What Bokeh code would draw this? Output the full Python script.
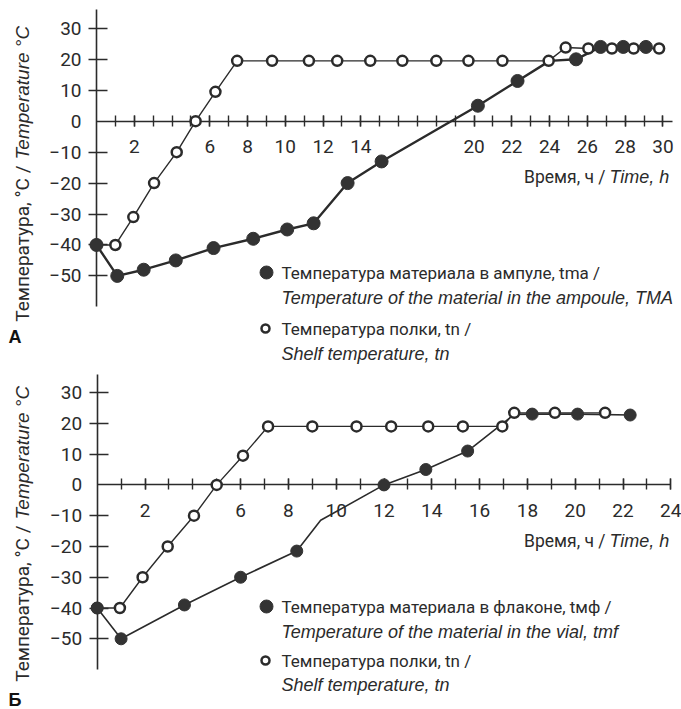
import math
from bokeh.plotting import figure
from bokeh.models import Range1d, LinearAxis, FixedTicker, Label
from bokeh.layouts import column
from bokeh.embed import file_html
from bokeh.resources import INLINE

# ---------------- data: panel A (ampoule) ----------------
a_mat_time = [0, 1.1, 2.5, 4.2, 6.2, 8.3, 10.1, 11.5, 13.3, 15.1, 20.2, 22.3, 25.4, 26.7, 27.9, 29.1]
a_mat_temp = [-40, -50, -48, -45, -41, -38, -35, -33, -20, -13, 5, 13, 20, 24, 24, 24]
# course of the material curve (with its bend where it meets the shelf curve)
a_path_time = [0, 1.1, 2.5, 4.2, 6.2, 8.3, 10.1, 11.5, 13.3, 15.1, 20.2, 22.3, 24.0, 25.4, 26.7, 27.9, 29.1]
a_path_temp = [-40, -50, -48, -45, -41, -38, -35, -33, -20, -13, 5, 13, 19.5, 20, 24, 24, 24]
a_shelf_time = [0, 1.0, 1.95, 3.05, 4.25, 5.25, 6.3, 7.45, 9.3, 11.25, 12.75, 14.5, 16.2,
                18.0, 19.7, 21.5, 23.95, 24.85, 26.05, 27.3, 28.45, 29.8]
a_shelf_temp = [-40, -40, -31, -20, -10, 0, 9.5, 19.5, 19.5, 19.5, 19.5, 19.5, 19.5,
                19.5, 19.5, 19.5, 19.5, 23.8, 23.5, 23.5, 23.5, 23.5]
a_time_labels = [2, 6, 8, 10, 12, 14, 20, 22, 24, 26, 28, 30]
a_time_ticks = list(range(1, 31))

# ---------------- data: panel B (vial) ----------------
b_mat_time = [0, 1.0, 3.65, 6.0, 8.35, 12.0, 13.75, 15.5, 18.2, 20.1, 22.3]
b_mat_temp = [-40, -50, -39, -30, -21.5, 0, 5, 11, 23, 23, 22.7]
b_path_time = [0, 1.0, 3.65, 6.0, 8.35, 9.35, 12.0, 13.75, 15.5, 17.45, 18.2, 20.1, 22.3]
b_path_temp = [-40, -50, -39, -30, -21.5, -11.5, 0, 5, 11, 22.9, 23, 23, 22.7]
b_shelf_time = [0, 0.95, 1.9, 2.95, 4.05, 5.0, 6.1, 7.15, 9.0, 10.85, 12.3, 13.85, 15.3,
                16.95, 17.45, 19.15, 21.25]
b_shelf_temp = [-40, -40, -30, -20, -10, 0, 9.5, 19, 19, 19, 19, 19, 19,
                19, 23.4, 23.4, 23.4]
b_time_labels = [2, 6, 8, 10, 12, 14, 16, 18, 20, 22, 24]
b_time_ticks = list(range(1, 25))

temp_labels = [30, 20, 10, 0, -10, -20, -30, -40, -50]
temp_ticks = [30, 20, 10, -10, -20, -30, -40, -50]

# ---------------- styling ----------------
W = 681
FONT_RU = "Roboto"
FONT_EN = "Liberation Sans"
INK = "#2b2b2b"
MARK = "#333333"


def make_panel(height, top, cx0, sx, cy0, sy, xbound, lab_ticks, minor_ticks,
               mat_t, mat_v, path_t, path_v, shelf_t, shelf_v, mat_lw, mat_size,
               legend_ru1, legend_en1, leg, xlab_y, ylab_split, letter, letter_y):
    p = figure(width=W, height=height,
               x_range=Range1d(-cx0 / sx, (W - cx0) / sx),
               y_range=Range1d((cy0 - height) / sy, cy0 / sy),
               output_backend="svg", toolbar_location=None,
               x_axis_type=None, y_axis_type=None, min_border=0)
    p.outline_line_color = None
    p.background_fill_color = "white"
    p.border_fill_color = "white"

    def X(px):
        return (px - cx0) / sx

    def Y(py):
        return (cy0 - (py - top)) / sy

    # time axis through t = 0
    xa = LinearAxis(fixed_location=0, bounds=(0, xbound),
                    ticker=FixedTicker(ticks=lab_ticks, minor_ticks=minor_ticks))
    xa.axis_line_color = INK
    xa.axis_line_width = 1.6
    xa.major_tick_line_color = INK
    xa.minor_tick_line_color = INK
    xa.major_tick_line_width = 1.4
    xa.minor_tick_line_width = 1.4
    xa.major_tick_in = 6
    xa.major_tick_out = 5
    xa.minor_tick_in = 6
    xa.minor_tick_out = 5
    xa.major_label_standoff = 14
    xa.major_label_text_font = FONT_RU
    xa.major_label_text_font_size = "19px"
    xa.major_label_text_color = INK
    xa.level = "underlay"
    p.add_layout(xa, "below")

    # temperature axis at time 0 : labels + line
    ya = LinearAxis(fixed_location=0, bounds=(-60, 36),
                    ticker=FixedTicker(ticks=temp_labels, minor_ticks=[]))
    ya.axis_line_color = INK
    ya.axis_line_width = 1.6
    ya.major_tick_in = 0
    ya.major_tick_out = 0
    ya.major_label_standoff = 15
    ya.major_label_text_font = FONT_RU
    ya.major_label_text_font_size = "19px"
    ya.major_label_text_color = INK
    ya.level = "underlay"
    p.add_layout(ya, "left")

    # temperature tick marks (none at 0, where the time axis starts)
    yt = LinearAxis(fixed_location=0, bounds=(-60, 36),
                    ticker=FixedTicker(ticks=temp_ticks, minor_ticks=[]))
    yt.axis_line_color = None
    yt.major_tick_line_color = INK
    yt.major_tick_line_width = 1.5
    yt.major_tick_in = 11
    yt.major_tick_out = 8
    yt.major_label_text_alpha = 0
    yt.major_label_text_font_size = "1px"
    yt.level = "underlay"
    p.add_layout(yt, "left")

    # curves
    p.line(shelf_t, shelf_v, line_color=INK, line_width=1.4)
    p.line(path_t, path_v, line_color=INK, line_width=mat_lw)
    p.scatter(shelf_t, shelf_v, size=10, marker="circle", fill_color="white",
              line_color=INK, line_width=2.5)
    p.scatter(mat_t, mat_v, size=mat_size, marker="circle", fill_color=MARK,
              line_color=MARK, line_width=1)

    # legend
    (y1, y2, y3, y4) = leg
    p.scatter([X(266)], [Y(y1)], size=13, marker="circle", fill_color=MARK, line_color=MARK)
    p.scatter([X(265)], [Y(y3)], size=8, marker="circle", fill_color="white",
              line_color=INK, line_width=2.5)
    tx = X(281)
    p.add_layout(Label(x=tx, y=Y(y1), text=legend_ru1, text_font=FONT_RU,
                       text_font_size="17px", text_color=INK, text_baseline="middle"))
    p.add_layout(Label(x=tx, y=Y(y2), text=legend_en1, text_font=FONT_EN,
                       text_font_style="italic", text_font_size="18px", text_color=INK,
                       text_baseline="middle"))
    p.add_layout(Label(x=tx, y=Y(y3), text="Температура полки, tn /", text_font=FONT_RU,
                       text_font_size="17px", text_color=INK, text_baseline="middle"))
    p.add_layout(Label(x=tx, y=Y(y4), text="Shelf temperature, tn", text_font=FONT_EN,
                       text_font_style="italic", text_font_size="18px", text_color=INK,
                       text_baseline="middle"))

    # axis titles
    p.add_layout(Label(x=X(605), y=Y(xlab_y), text="Время, ч /", text_font=FONT_RU,
                       text_font_size="17.5px", text_color=INK, text_align="right",
                       text_baseline="middle"))
    p.add_layout(Label(x=X(609), y=Y(xlab_y), text="Time, h", text_font=FONT_EN,
                       text_font_style="italic", text_font_size="18px", text_color=INK,
                       text_align="left", text_baseline="middle"))
    p.add_layout(Label(x=X(22), y=Y(ylab_split + 3), text="Температура, °C /",
                       text_font=FONT_RU, text_font_size="19px", text_color=INK,
                       angle=math.pi / 2, text_align="right", text_baseline="middle"))
    p.add_layout(Label(x=X(22), y=Y(ylab_split - 3), text="Temperature °C",
                       text_font=FONT_EN, text_font_style="italic", text_font_size="19px",
                       text_color=INK, angle=math.pi / 2, text_align="left",
                       text_baseline="middle"))
    # panel letter
    p.add_layout(Label(x=X(8), y=Y(letter_y), text=letter, text_font=FONT_EN,
                       text_font_style="bold", text_font_size="18px", text_color="#111111",
                       text_baseline="middle"))
    return p


H_A = 366
H_B = 709 - H_A
pa = make_panel(H_A, 0, 96, 18.88, 120.7, 3.094, 30.5, a_time_labels, a_time_ticks,
                a_mat_time, a_mat_temp, a_path_time, a_path_temp, a_shelf_time, a_shelf_temp,
                2.4, 13,
                "Температура материала в ампуле, tma /",
                "Temperature of the material in the ampoule, TMA",
                (272, 297, 328, 353), 176, 162, "А", 336)
pb = make_panel(H_B, H_A, 96.7, 23.9, 484.4 - H_A, 3.078, 24, b_time_labels, b_time_ticks,
                b_mat_time, b_mat_temp, b_path_time, b_path_temp, b_shelf_time, b_shelf_temp,
                1.6, 12,
                "Температура материала в флаконе, tмф /",
                "Temperature of the material in the vial, tmf",
                (606, 631, 660, 684), 540, 522, "Б", 699)

layout = column(pa, pb, spacing=0)
open("out.html", "w").write(file_html(layout, INLINE))
